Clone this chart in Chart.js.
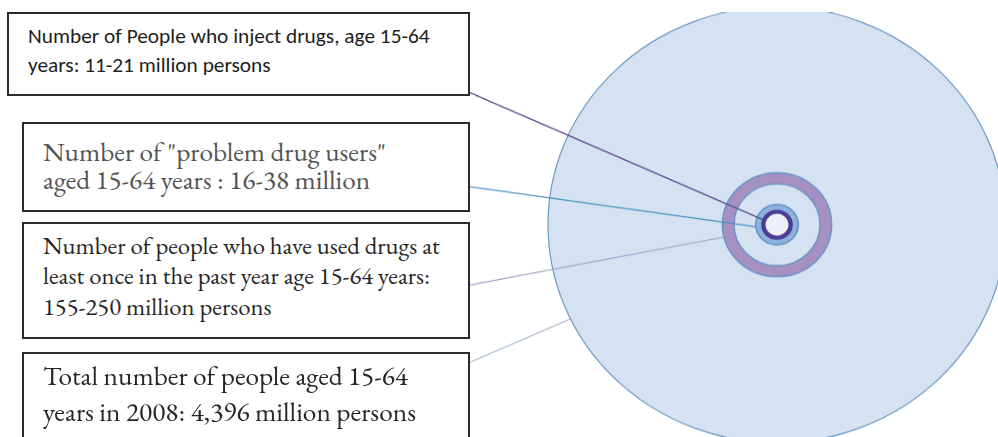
<!DOCTYPE html>
<html><head><meta charset="utf-8">
<script src="https://cdn.jsdelivr.net/npm/chart.js@4/dist/chart.umd.min.js"></script>
<style>
html,body{margin:0;padding:0;background:#fff;}
body{width:998px;height:437px;overflow:hidden;position:relative;}
#clip{position:absolute;left:0;top:12px;width:998px;height:425px;overflow:hidden;}
#c{position:absolute;left:0;top:-12px;transform-origin:0 0;transform:scaleY(0.952);}
.box{position:absolute;box-sizing:border-box;border:2px solid #2b2b2b;background:#fff;}
.ln{position:absolute;white-space:nowrap;}
</style></head><body>
<div id="clip"><canvas id="c" width="1010" height="480"></canvas></div>
<div id="labels"></div>
<script>
// ---------- data (millions of persons, age 15-64) ----------
const categories = ["People who inject drugs", "Problem drug users", "Used drugs in the past year", "Total population 2008"];
const lowMillions  = [11, 16, 155, 4396];
const highMillions = [21, 38, 250, 4396];
const labelLines = [
  ["Number of People who inject drugs, age 15-64", "years: 11-21 million persons"],
  ['Number of "problem drug users"', "aged 15-64 years : 16-38 million"],
  ["Number of people who have used drugs at", "least once in the past year age 15-64 years:", "155-250 million persons"],
  ["Total number of people aged 15-64", "years in 2008: 4,396 million persons"]
];

// ---------- styles ----------
const SQUASH = 0.952;
const innerColors = ["#eef0f9", "#8db0dc", "#d4e2f2", "#d4e2f2"];
const outerColors = ["#4b3d97", "#8db0dc", "#a690c1", "#d4e2f2"];
const leaderColors = ["#5d4d8c", "#4b93c2", "#a99fcb", "#a3b6c9"];
const leaderWidths = [1.4, 1.3, 1.1, 1.2];
const leaderAngles = [200.4, 174.5, 166.3, 154.4];
const leaderStartX = 470;
const leaderStartY = [92.7, 186.7, 285, 362.3];

// circles: area proportional to the number of persons -> radius ~ sqrt(value)
const rings = [];
categories.forEach((c, i) => {
  rings.push({ name: c + " (low)", value: lowMillions[i], color: innerColors[i] });
  rings.push({ name: c + " (high)", value: highMillions[i], color: outerColors[i] });
});
// outlines drawn as radial grid circles
const outlines = [
  { value: highMillions[1], color: "#5f93c9", width: 1.5 },
  { value: lowMillions[2],  color: "#6b97c8", width: 1.5 },
  { value: highMillions[2], color: "#6b97c8", width: 1.5 },
  { value: highMillions[3], color: "#6d98c2", width: 1.2 }
];

const leaderPlugin = {
  id: "leaders",
  afterDraw(chart) {
    const s = chart.scales.r, ctx = chart.ctx;
    highMillions.forEach((v, i) => {
      const dist = s.getDistanceFromCenterForValue(Math.sqrt(v));
      const a = leaderAngles[i] * Math.PI / 180;
      // getPointPosition(index 0 => top) rotated by extra angle
      const end = s.getPointPosition(0, dist, a + Math.PI / 2 - s.getIndexAngle(0));
      ctx.save();
      ctx.beginPath();
      ctx.moveTo(leaderStartX, leaderStartY[i] / SQUASH);
      ctx.lineTo(end.x, end.y);
      ctx.strokeStyle = leaderColors[i];
      ctx.lineWidth = leaderWidths[i];
      ctx.stroke();
      ctx.restore();
    });
  }
};

try {
new Chart(document.getElementById("c"), {
  type: "polarArea",
  data: {
    labels: ["persons"],
    datasets: rings.map(r => ({
      label: r.name,
      data: [Math.sqrt(r.value)],
      backgroundColor: r.color,
      borderWidth: 0,
      clip: false
    }))
  },
  options: {
    responsive: false,
    animation: false,
    events: [],
    layout: { padding: { left: 548, right: 4, top: 7, bottom: 15 } },
    plugins: { legend: { display: false }, tooltip: { enabled: false } },
    scales: {
      r: {
        min: 0,
        max: Math.sqrt(Math.max(...highMillions)),
        ticks: { display: false },
        pointLabels: { display: false },
        angleLines: { display: false },
        grid: {
          z: 1,
          circular: true,
          color: c => (c.tick && c.tick.color) || "rgba(0,0,0,0)",
          lineWidth: c => (c.tick && c.tick.width) || 0
        },
        afterBuildTicks: axis => {
          axis.ticks = [{ value: 0 }].concat(outlines.map(o => ({ value: Math.sqrt(o.value), color: o.color, width: o.width })));
        }
      }
    }
  },
  plugins: [leaderPlugin]
});
} catch (e) { console.error(e); }

// ---------- label boxes (HTML text) ----------
const boxes = [
  { l: 7,  t: 12,  w: 463, h: 84 },
  { l: 22, t: 122, w: 448, h: 90 },
  { l: 22, t: 222, w: 448, h: 117 },
  { l: 22, t: 352, w: 448, h: 100 }
];
const textStyle = [
  { family: "Calibri, Carlito, Lato, sans-serif", x: 28, width: 402, xc: [37.8, 66.7], color: "#1e1e1e" },
  { family: "Garamond, 'EB Garamond', 'Liberation Serif', serif", x: 43, width: 343, xc: [155, 183.3], color: "#555555" },
  { family: "Garamond, 'EB Garamond', 'Liberation Serif', serif", x: 43, width: 397, xc: [249, 279, 309.7], color: "#262626" },
  { family: "Garamond, 'EB Garamond', 'Liberation Serif', serif", x: 43, width: 365, xc: [379, 415.7], color: "#262626" }
];
const mctx = document.createElement("canvas").getContext("2d");
const host = document.getElementById("labels");
boxes.forEach((b, i) => {
  const d = document.createElement("div");
  d.className = "box";
  Object.assign(d.style, { left: b.l + "px", top: b.t + "px", width: b.w + "px", height: b.h + "px" });
  host.appendChild(d);
  const st = textStyle[i];
  mctx.font = "100px " + st.family;
  const size = 100 * st.width / mctx.measureText(labelLines[i][0]).width;
  mctx.font = size + "px " + st.family;
  const mx = mctx.measureText("x");
  const asc = mx.fontBoundingBoxAscent, desc = mx.fontBoundingBoxDescent, xh = mx.actualBoundingBoxAscent;
  const LH = Math.ceil(asc + desc);
  const baseOff = (LH - (asc + desc)) / 2 + asc;
  labelLines[i].forEach((txt, j) => {
    const s = document.createElement("div");
    s.className = "ln";
    s.textContent = txt;
    Object.assign(s.style, {
      left: st.x + "px",
      top: (st.xc[j] - baseOff + xh / 2) + "px",
      fontFamily: st.family,
      fontSize: size + "px",
      lineHeight: LH + "px",
      color: st.color
    });
    host.appendChild(s);
  });
});
</script>
</body></html>
